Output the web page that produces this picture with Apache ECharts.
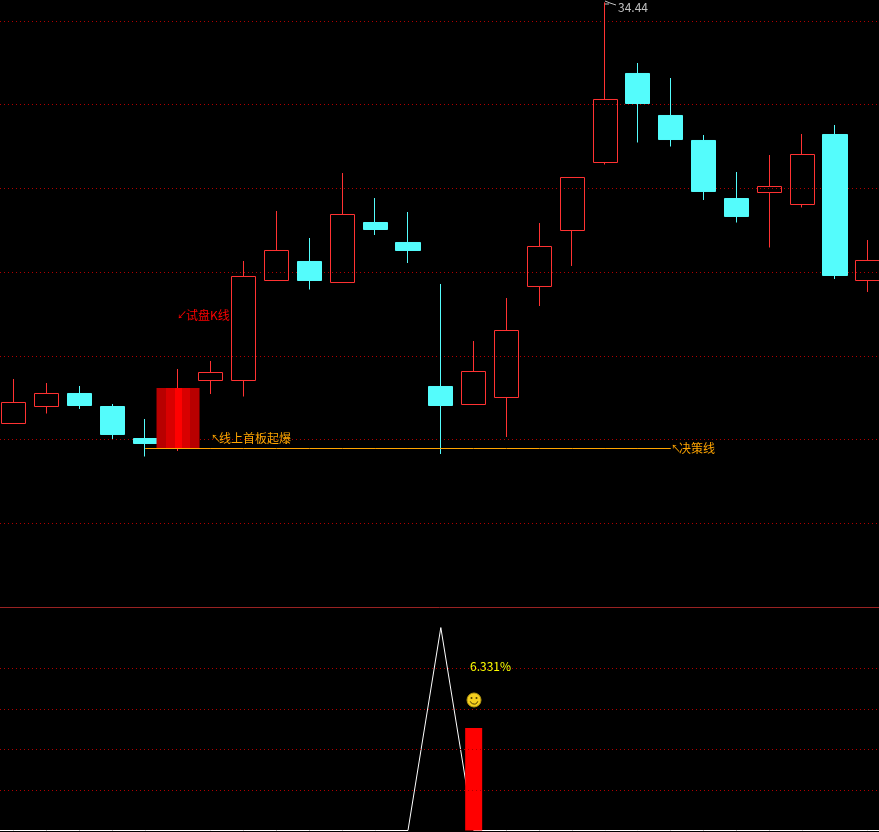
<!DOCTYPE html>
<html>
<head>
<meta charset="utf-8">
<title>K线</title>
<style>
  html, body { margin: 0; padding: 0; background: #000; }
  #grafico { width: 879px; height: 832px; }
</style>
<script src="https://cdn.jsdelivr.net/npm/echarts@6/dist/echarts.min.js"></script>
</head>
<body>
<div id="grafico"></div>
<script>
// blank slots at both ends so the lower line runs off the edges of the window
const categorias = ['', 'K1', 'K2', 'K3', 'K4', 'K5', 'K6', 'K7', 'K8', 'K9', 'K10', 'K11', 'K12', 'K13', 'K14',
  'K15', 'K16', 'K17', 'K18', 'K19', 'K20', 'K21', 'K22', 'K23', 'K24', 'K25', 'K26', 'K27', ' '];

// open, close, low, high
const velas = [
  '-',
  [24.383, 24.885, 24.383, 25.446],
  [24.789, 25.100, 24.622, 25.350],
  [25.100, 24.813, 24.730, 25.279],
  [24.789, 24.121, 24.013, 24.849],
  [24.025, 23.906, 23.595, 24.491],
  [23.786, 25.219, 23.727, 25.685],
  [25.410, 25.601, 25.088, 25.876],
  [25.410, 27.894, 25.028, 28.264],
  [27.798, 28.515, 27.798, 29.458],
  [28.252, 27.798, 27.583, 28.813],
  [27.750, 29.374, 27.750, 30.365],
  [29.183, 29.016, 28.885, 29.768],
  [28.706, 28.515, 28.216, 29.434],
  [25.267, 24.813, 23.655, 27.715],
  [24.837, 25.625, 24.837, 26.353],
  [25.004, 26.604, 24.061, 27.380],
  [27.655, 28.610, 27.189, 29.171],
  [28.992, 30.258, 28.145, 30.258],
  [30.616, 32.121, 30.568, 34.440],
  [32.742, 32.025, 31.094, 32.992],
  [31.739, 31.165, 30.998, 32.634],
  [31.142, 29.924, 29.721, 31.273],
  [29.756, 29.327, 29.183, 30.389],
  [29.900, 30.043, 28.586, 30.795],
  [29.613, 30.807, 29.542, 31.297],
  [31.285, 27.918, 27.834, 31.512],
  [27.798, 28.276, 27.524, 28.765],
  '-'
];

// the wide red block over the sixth candle (base + height, stacked)
const bloqueBase = categorias.map((c, i) => (i === 6 ? 23.798 : null));
const bloqueAlto = categorias.map((c, i) => (i === 6 ? 1.433 : null));

// orange decision line, from K5 to K21
const lineaDecision = categorias.map((c, i) => (i >= 5 && i <= 21 ? 23.786 : null));

const indicadorLinea = [0, 0, 0, 0, 0, 0, 0, 0, 0, 0, 0, 0, 0, 0, 100, 0, 0, 0, 0, 0, 0, 0, 0, 0, 0, 0, 0, 0, 0];
const indicadorBarra = [null, null, null, null, null, null, null, null, null, null, null, null, null, null, null,
  50.5, null, null, null, null, null, null, null, null, null, null, null, null, null];
const nivelesIndicador = [20, 40, 60, 79.9];

const ROJO = '#FF3232';
const CIAN = '#54FCFC';
const PUNTOS = '#B00000';
const FUENTE = '"Noto Sans CJK SC", "Liberation Sans", sans-serif';

function texto(x, y, contenido, color, size) {
  return {
    type: 'text', x: x, y: y, z: 50,
    style: { text: contenido, fill: color, font: (size || 12) + 'px ' + FUENTE, textVerticalAlign: 'middle' }
  };
}

const ejeX = {
  type: 'category',
  data: categorias,
  axisTick: { show: false },
  axisLabel: { show: false },
  splitLine: { show: false }
};

const punteado = { color: PUNTOS, width: 1, type: [1, 3], dashOffset: 0.5 };

const opciones = {
  backgroundColor: '#000',
  animation: false,
  grid: [
    { left: -35.5, width: 952.65, top: 0.3, height: 606.75, outerBoundsMode: 'none' },
    { left: -35.5, width: 952.65, top: 607.3, height: 223.2, outerBoundsMode: 'none' }
  ],
  xAxis: [
    Object.assign({ gridIndex: 0, axisLine: { show: false } }, ejeX),
    // the panel divider is the top edge of the lower grid
    Object.assign({ gridIndex: 1, position: 'top', axisLine: { show: true, onZero: false, lineStyle: { color: '#992222', width: 1 } } }, ejeX)
  ],
  yAxis: [
    {
      gridIndex: 0, type: 'value', min: 20, max: 34.4896, interval: 2,
      axisLine: { show: false }, axisTick: { show: false }, axisLabel: { show: false },
      splitLine: { show: true, showMinLine: false, showMaxLine: false, lineStyle: punteado }
    },
    {
      gridIndex: 1, type: 'value', min: 0, max: 110,
      axisLine: { show: false }, axisTick: { show: false }, axisLabel: { show: false },
      splitLine: { show: false }
    }
  ],
  series: [
    {
      type: 'candlestick', name: 'K', xAxisIndex: 0, yAxisIndex: 0, data: velas, barWidth: 24.6, z: 3,
      itemStyle: { color: 'transparent', color0: CIAN, borderColor: ROJO, borderColor0: CIAN, borderWidth: 1 }
    },
    {
      type: 'bar', xAxisIndex: 0, yAxisIndex: 0, stack: 'bloque', data: bloqueBase, barWidth: 43, z: 4,
      itemStyle: { color: 'transparent' }
    },
    {
      type: 'bar', xAxisIndex: 0, yAxisIndex: 0, stack: 'bloque', data: bloqueAlto, barWidth: 43, z: 4,
      itemStyle: {
        color: new echarts.graphic.LinearGradient(0, 0, 1, 0, [
          { offset: 0, color: '#B80000' }, { offset: 0.23, color: '#B80000' },
          { offset: 0.23, color: '#D80000' }, { offset: 0.42, color: '#D80000' },
          { offset: 0.42, color: '#FF0000' }, { offset: 0.6, color: '#FF0000' },
          { offset: 0.6, color: '#D80000' }, { offset: 0.77, color: '#D80000' },
          { offset: 0.77, color: '#B80000' }, { offset: 1, color: '#B80000' }
        ])
      }
    },
    {
      type: 'line', xAxisIndex: 0, yAxisIndex: 0, data: lineaDecision, symbol: 'none', z: 5,
      lineStyle: { color: '#FFA500', width: 1 }
    },
    {
      type: 'line', xAxisIndex: 1, yAxisIndex: 1, data: indicadorLinea, symbol: 'none', z: 3,
      lineStyle: { color: '#FFFFFF', width: 1 },
      markLine: {
        silent: true, symbol: 'none', label: { show: false }, animation: false,
        lineStyle: punteado,
        data: nivelesIndicador.map(v => ({ yAxis: v }))
      }
    },
    {
      type: 'bar', xAxisIndex: 1, yAxisIndex: 1, data: indicadorBarra, barWidth: 17, z: 4,
      itemStyle: { color: '#FF0000' }
    }
  ],
  graphic: [
    texto(177, 315, '↙', '#FF0000', 10),
    texto(186, 315, '试盘K线', '#FF0000'),
    texto(211, 438, '↖', '#FFA500', 10),
    texto(219, 438, '线上首板起爆', '#FFA500'),
    texto(671, 448, '↖', '#FFA500', 10),
    texto(679, 448, '决策线', '#FFA500'),
    texto(618, 7, '34.44', '#C0C0C0'),
    texto(470, 666, '6.331%', '#FFFF00'),
    // little flag on the highest price
    { type: 'polyline', z: 50, shape: { points: [[605, 1], [610, 3], [616, 5]] }, style: { stroke: '#C0C0C0', fill: null, lineWidth: 1 } },
    { type: 'polyline', z: 50, shape: { points: [[605, 4], [609, 4]] }, style: { stroke: '#C0C0C0', fill: null, lineWidth: 1 } },
    // smiley
    { type: 'circle', z: 50, shape: { cx: 474, cy: 700, r: 7 }, style: { fill: '#F5CF1E', stroke: '#B89A10', lineWidth: 1 } },
    { type: 'circle', z: 51, shape: { cx: 471.5, cy: 698, r: 1 }, style: { fill: '#4A3A00' } },
    { type: 'circle', z: 51, shape: { cx: 476.5, cy: 698, r: 1 }, style: { fill: '#4A3A00' } },
    { type: 'arc', z: 51, shape: { cx: 474, cy: 700, r: 4, startAngle: 0.35, endAngle: 2.8 }, style: { stroke: '#4A3A00', fill: null, lineWidth: 1 } }
  ]
};

const miGrafico = echarts.init(document.getElementById('grafico'), null, { renderer: 'canvas' });
miGrafico.setOption(opciones);
</script>
</body>
</html>
